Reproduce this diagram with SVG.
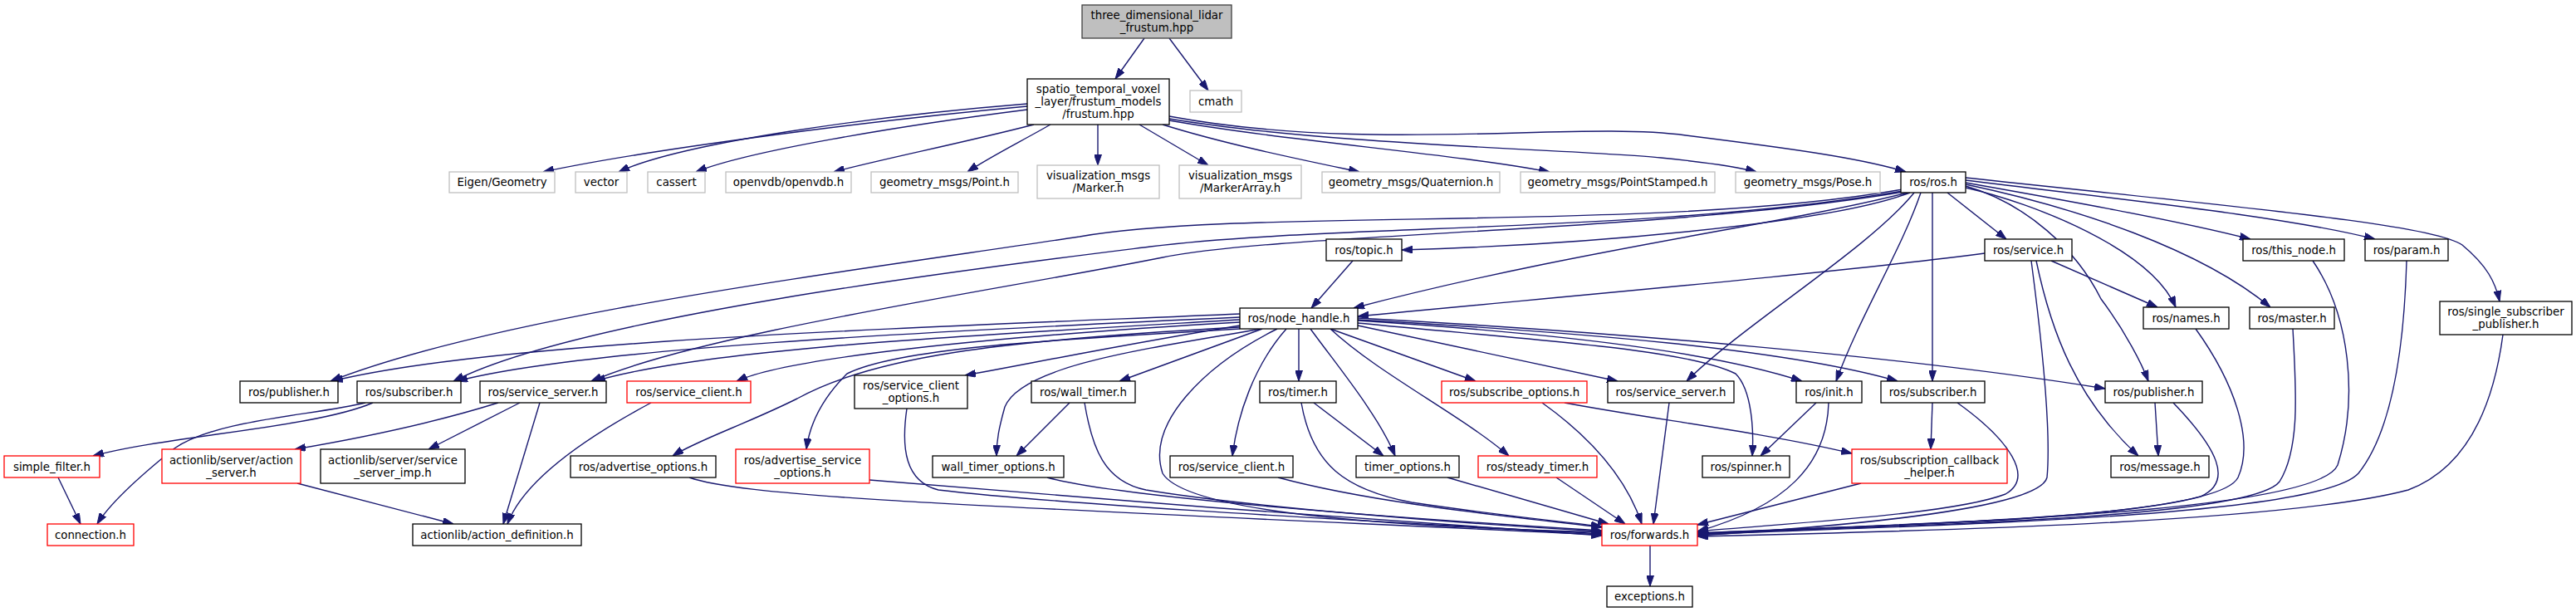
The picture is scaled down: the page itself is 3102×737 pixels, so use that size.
<svg xmlns="http://www.w3.org/2000/svg" width="3102" height="737" viewBox="0 0 3102 737">
<style>
text{font-family:"DejaVu Sans","Liberation Sans",sans-serif;font-size:13.33px;fill:#000;text-anchor:middle}
rect{fill:#fff;stroke-width:1.3}
.b rect{stroke:#000}
.g rect{stroke:#bfbfbf}
.r rect{stroke:#ff0000}
.root rect{fill:#bfbfbf;stroke:#404040}
#edges path{fill:none;stroke:#191970;stroke-width:1.4;marker-end:url(#a)}
</style>
<defs>
<marker id="a" viewBox="0 0 13 9" refX="13" refY="4.5" markerWidth="13" markerHeight="9" markerUnits="userSpaceOnUse" orient="auto">
<path d="M0,0 L13,4.5 L0,9 Z" fill="#191970" stroke="#191970" stroke-width="1"/>
</marker>
</defs>
<rect x="0" y="0" width="3102" height="737" style="fill:#fff;stroke:none"/>
<g id="edges">
<path d="M1378,46 L1343,95"/>
<path d="M1408,46 L1455,109"/>
<path d="M1237,128 C1050,145 780,180 654,207"/>
<path d="M1237,125 C1050,140 820,172 745,207"/>
<path d="M1237,132 C1080,152 900,182 838,207"/>
<path d="M1245,150 C1160,172 1060,192 1004,207"/>
<path d="M1265,150 C1230,170 1190,190 1165,207"/>
<path d="M1322,150 L1322,199"/>
<path d="M1372,150 L1455,199"/>
<path d="M1400,150 C1480,175 1580,195 1637,207"/>
<path d="M1408,145 C1550,170 1750,185 1866,207"/>
<path d="M1408,143 C1600,175 1900,180 2000,190 C2050,195 2090,200 2115,207"/>
<path d="M1408,140 C1650,185 1900,145 2030,163 C2150,178 2240,190 2295,207"/>
<path d="M2300,232 C2200,270 1900,295 1688,301"/>
<path d="M2297,232 C2150,270 1900,300 1630,371"/>
<path d="M2291,228 C2000,280 1500,250 1300,285 C1000,330 600,380 398,459"/>
<path d="M2291,230 C2000,280 1600,270 1385,297 C1200,320 700,380 546,459"/>
<path d="M2292,231 C2000,280 1550,280 1400,310 C1200,350 850,400 712,459"/>
<path d="M2305,232 C2250,300 2100,390 2031,459"/>
<path d="M2313,232 C2290,300 2240,380 2211,459"/>
<path d="M2327,232 L2327,459"/>
<path d="M2345,232 L2416,288"/>
<path d="M2367,224 C2440,245 2500,300 2530,360 C2560,400 2580,440 2587,459"/>
<path d="M2367,226 C2450,245 2590,300 2620,370"/>
<path d="M2367,222 C2500,250 2650,300 2734,370"/>
<path d="M2367,220 C2480,240 2620,265 2710,288"/>
<path d="M2367,217 C2550,240 2750,260 2860,288"/>
<path d="M2367,214 C2700,250 2930,270 2965,295 C2995,320 3005,340 3010,363"/>
<path d="M2390,305 C2200,330 1850,360 1635,381"/>
<path d="M2470,314 L2598,370"/>
<path d="M2452,314 C2470,400 2500,480 2575,549"/>
<path d="M2446,314 C2460,420 2470,520 2465,575 C2455,615 2200,635 2044,645"/>
<path d="M2785,314 C2830,380 2840,480 2815,560 C2790,620 2300,630 2044,643"/>
<path d="M2898,314 C2895,420 2880,520 2840,570 C2790,625 2300,632 2044,644"/>
<path d="M2644,396 C2690,460 2715,530 2695,575 C2670,625 2300,630 2044,642"/>
<path d="M2761,396 C2765,470 2770,540 2745,580 C2710,625 2300,632 2044,643"/>
<path d="M3014,403 C3005,470 2980,560 2900,590 C2750,630 2300,640 2044,646"/>
<path d="M2617,485 C2670,540 2690,580 2650,598 C2550,625 2300,632 2044,642"/>
<path d="M2595,485 L2599,549"/>
<path d="M2327,485 L2325,541"/>
<path d="M2357,485 C2420,530 2450,575 2415,595 C2350,620 2150,630 2044,640"/>
<path d="M2187,485 L2120,549"/>
<path d="M2202,485 C2200,560 2150,610 2044,640"/>
<path d="M2241,582 L2044,632"/>
<path d="M1635,389 C1850,410 2030,420 2090,450 C2110,470 2112,520 2110,549"/>
<path d="M1635,386 C1850,400 2050,420 2170,459"/>
<path d="M1635,385 C1900,400 2150,420 2285,459"/>
<path d="M1635,383 C1950,400 2300,430 2535,468"/>
<path d="M1493,378 C1100,395 600,410 400,459"/>
<path d="M1493,382 C1100,400 700,420 550,459"/>
<path d="M1493,385 C1150,405 850,420 716,459"/>
<path d="M1493,388 C1200,405 950,430 887,459"/>
<path d="M1493,392 C1350,415 1230,440 1162,452"/>
<path d="M1493,394 C1200,410 1050,430 960,480 C900,510 840,530 810,549"/>
<path d="M1493,396 C1250,410 1080,420 1020,450 C990,480 975,510 971,541"/>
<path d="M1520,396 L1348,459"/>
<path d="M1519,396 C1380,420 1230,440 1210,490 C1203,515 1200,530 1200,549"/>
<path d="M1538,396 C1450,440 1380,510 1400,570 C1430,620 1700,635 1929,641"/>
<path d="M1564,396 L1564,459"/>
<path d="M1549,396 C1510,440 1490,500 1484,549"/>
<path d="M1578,396 C1610,440 1660,500 1680,549"/>
<path d="M1602,396 C1660,450 1760,500 1817,549"/>
<path d="M1602,396 L1777,459"/>
<path d="M1635,392 L1948,459"/>
<path d="M1629,314 L1579,371"/>
<path d="M449,485 C380,515 200,525 112,549"/>
<path d="M440,485 C380,500 260,505 210,540 C160,580 130,610 117,631"/>
<path d="M70,575 L97,631"/>
<path d="M600,485 C520,510 420,530 355,541"/>
<path d="M626,485 L516,541"/>
<path d="M650,485 L606,631"/>
<path d="M784,485 C700,530 630,580 611,631"/>
<path d="M358,582 L546,631"/>
<path d="M1092,492 C1085,540 1090,580 1130,590 C1300,610 1700,630 1929,643"/>
<path d="M830,575 C900,600 1200,610 1929,644"/>
<path d="M1047,578 C1300,600 1700,630 1929,645"/>
<path d="M1288,485 L1224,549"/>
<path d="M1306,485 C1315,540 1330,580 1380,590 C1500,610 1750,630 1929,640"/>
<path d="M1261,575 C1350,600 1700,625 1929,639"/>
<path d="M1567,485 C1580,560 1620,590 1700,605 C1800,620 1880,628 1929,634"/>
<path d="M1582,485 L1666,549"/>
<path d="M1539,575 C1650,605 1800,620 1929,635"/>
<path d="M1743,575 L1937,631"/>
<path d="M1874,575 L1957,631"/>
<path d="M1857,485 C1920,530 1960,580 1977,631"/>
<path d="M1884,485 C1990,505 2120,520 2230,546"/>
<path d="M2010,485 L1991,631"/>
<path d="M1987,657 L1987,706"/>
</g>
<g id="n_root" class="root"><rect x="1303" y="6" width="180" height="40"/><text x="1393" y="23">three_dimensional_lidar</text><text x="1393" y="38">_frustum.hpp</text></g>
<g id="n_frustum" class="b"><rect x="1237" y="95" width="171" height="55"/><text x="1322.5" y="112">spatio_temporal_voxel</text><text x="1322.5" y="127">_layer/frustum_models</text><text x="1322.5" y="142">/frustum.hpp</text></g>
<g id="n_cmath" class="g"><rect x="1433" y="109" width="62" height="26"/><text x="1464" y="126.5">cmath</text></g>
<g id="n_eigen" class="g"><rect x="541" y="207" width="127" height="25"/><text x="604.5" y="224">Eigen/Geometry</text></g>
<g id="n_vector" class="g"><rect x="693" y="207" width="62" height="25"/><text x="724" y="224">vector</text></g>
<g id="n_cassert" class="g"><rect x="780" y="207" width="69" height="25"/><text x="814.5" y="224">cassert</text></g>
<g id="n_openvdb" class="g"><rect x="874" y="207" width="151" height="25"/><text x="949.5" y="224">openvdb/openvdb.h</text></g>
<g id="n_point" class="g"><rect x="1049" y="207" width="177" height="25"/><text x="1137.5" y="224">geometry_msgs/Point.h</text></g>
<g id="n_marker" class="g"><rect x="1249" y="199" width="147" height="40"/><text x="1322.5" y="216">visualization_msgs</text><text x="1322.5" y="231">/Marker.h</text></g>
<g id="n_markerarray" class="g"><rect x="1420" y="199" width="147" height="40"/><text x="1493.5" y="216">visualization_msgs</text><text x="1493.5" y="231">/MarkerArray.h</text></g>
<g id="n_quat" class="g"><rect x="1592" y="207" width="214" height="25"/><text x="1699" y="224">geometry_msgs/Quaternion.h</text></g>
<g id="n_pointstamped" class="g"><rect x="1831" y="207" width="234" height="25"/><text x="1948" y="224">geometry_msgs/PointStamped.h</text></g>
<g id="n_pose" class="g"><rect x="2090" y="207" width="174" height="25"/><text x="2177" y="224">geometry_msgs/Pose.h</text></g>
<g id="n_ros" class="b"><rect x="2289" y="207" width="78" height="25"/><text x="2328" y="224">ros/ros.h</text></g>
<g id="n_topic" class="b"><rect x="1597" y="288" width="91" height="26"/><text x="1642.5" y="305.5">ros/topic.h</text></g>
<g id="n_service" class="b"><rect x="2390" y="288" width="105" height="26"/><text x="2442.5" y="305.5">ros/service.h</text></g>
<g id="n_thisnode" class="b"><rect x="2701" y="288" width="122" height="26"/><text x="2762" y="305.5">ros/this_node.h</text></g>
<g id="n_param" class="b"><rect x="2848" y="288" width="100" height="26"/><text x="2898" y="305.5">ros/param.h</text></g>
<g id="n_nodehandle" class="b"><rect x="1493" y="371" width="142" height="25"/><text x="1564" y="388">ros/node_handle.h</text></g>
<g id="n_names" class="b"><rect x="2581" y="370" width="103" height="26"/><text x="2632.5" y="387.5">ros/names.h</text></g>
<g id="n_master" class="b"><rect x="2709" y="370" width="102" height="26"/><text x="2760" y="387.5">ros/master.h</text></g>
<g id="n_singlesub" class="b"><rect x="2938" y="363" width="159" height="40"/><text x="3017.5" y="380">ros/single_subscriber</text><text x="3017.5" y="395">_publisher.h</text></g>
<g id="n_pubL" class="b"><rect x="289" y="459" width="118" height="26"/><text x="348" y="476.5">ros/publisher.h</text></g>
<g id="n_subL" class="b"><rect x="430" y="459" width="125" height="26"/><text x="492.5" y="476.5">ros/subscriber.h</text></g>
<g id="n_ssL" class="b"><rect x="578" y="459" width="152" height="26"/><text x="654" y="476.5">ros/service_server.h</text></g>
<g id="n_scR" class="r"><rect x="755" y="459" width="149" height="26"/><text x="829.5" y="476.5">ros/service_client.h</text></g>
<g id="n_sco" class="b"><rect x="1029" y="452" width="136" height="40"/><text x="1097" y="469">ros/service_client</text><text x="1097" y="484">_options.h</text></g>
<g id="n_walltimer" class="b"><rect x="1242" y="459" width="125" height="26"/><text x="1304.5" y="476.5">ros/wall_timer.h</text></g>
<g id="n_timer" class="b"><rect x="1517" y="459" width="92" height="26"/><text x="1563" y="476.5">ros/timer.h</text></g>
<g id="n_subopts" class="r"><rect x="1736" y="459" width="175" height="26"/><text x="1823.5" y="476.5">ros/subscribe_options.h</text></g>
<g id="n_ssR" class="b"><rect x="1936" y="459" width="152" height="26"/><text x="2012" y="476.5">ros/service_server.h</text></g>
<g id="n_init" class="b"><rect x="2163" y="459" width="79" height="26"/><text x="2202.5" y="476.5">ros/init.h</text></g>
<g id="n_subR" class="b"><rect x="2265" y="459" width="125" height="26"/><text x="2327.5" y="476.5">ros/subscriber.h</text></g>
<g id="n_pubR" class="b"><rect x="2535" y="459" width="117" height="26"/><text x="2593.5" y="476.5">ros/publisher.h</text></g>
<g id="n_simplefilter" class="r"><rect x="5" y="549" width="115" height="26"/><text x="62.5" y="566.5">simple_filter.h</text></g>
<g id="n_actionserver" class="r"><rect x="195" y="541" width="167" height="41"/><text x="278.5" y="558.5">actionlib/server/action</text><text x="278.5" y="573.5">_server.h</text></g>
<g id="n_ssimp" class="b"><rect x="386" y="541" width="174" height="41"/><text x="473" y="558.5">actionlib/server/service</text><text x="473" y="573.5">_server_imp.h</text></g>
<g id="n_advopts" class="b"><rect x="687" y="549" width="175" height="26"/><text x="774.5" y="566.5">ros/advertise_options.h</text></g>
<g id="n_advsrvopts" class="r"><rect x="886" y="541" width="161" height="41"/><text x="966.5" y="558.5">ros/advertise_service</text><text x="966.5" y="573.5">_options.h</text></g>
<g id="n_wto" class="b"><rect x="1123" y="549" width="158" height="26"/><text x="1202" y="566.5">wall_timer_options.h</text></g>
<g id="n_scB" class="b"><rect x="1409" y="549" width="148" height="26"/><text x="1483" y="566.5">ros/service_client.h</text></g>
<g id="n_timeropts" class="b"><rect x="1633" y="549" width="124" height="26"/><text x="1695" y="566.5">timer_options.h</text></g>
<g id="n_steady" class="r"><rect x="1780" y="549" width="143" height="26"/><text x="1851.5" y="566.5">ros/steady_timer.h</text></g>
<g id="n_spinner" class="b"><rect x="2050" y="549" width="105" height="26"/><text x="2102.5" y="566.5">ros/spinner.h</text></g>
<g id="n_sch" class="r"><rect x="2230" y="541" width="187" height="41"/><text x="2323.5" y="558.5">ros/subscription_callback</text><text x="2323.5" y="573.5">_helper.h</text></g>
<g id="n_message" class="b"><rect x="2542" y="549" width="118" height="26"/><text x="2601" y="566.5">ros/message.h</text></g>
<g id="n_connection" class="r"><rect x="57" y="631" width="104" height="26"/><text x="109" y="648.5">connection.h</text></g>
<g id="n_actiondef" class="b"><rect x="497" y="631" width="203" height="26"/><text x="598.5" y="648.5">actionlib/action_definition.h</text></g>
<g id="n_forwards" class="r"><rect x="1929" y="631" width="115" height="26"/><text x="1986.5" y="648.5">ros/forwards.h</text></g>
<g id="n_exceptions" class="b"><rect x="1935" y="706" width="103" height="25"/><text x="1986.5" y="723">exceptions.h</text></g>
</svg>
